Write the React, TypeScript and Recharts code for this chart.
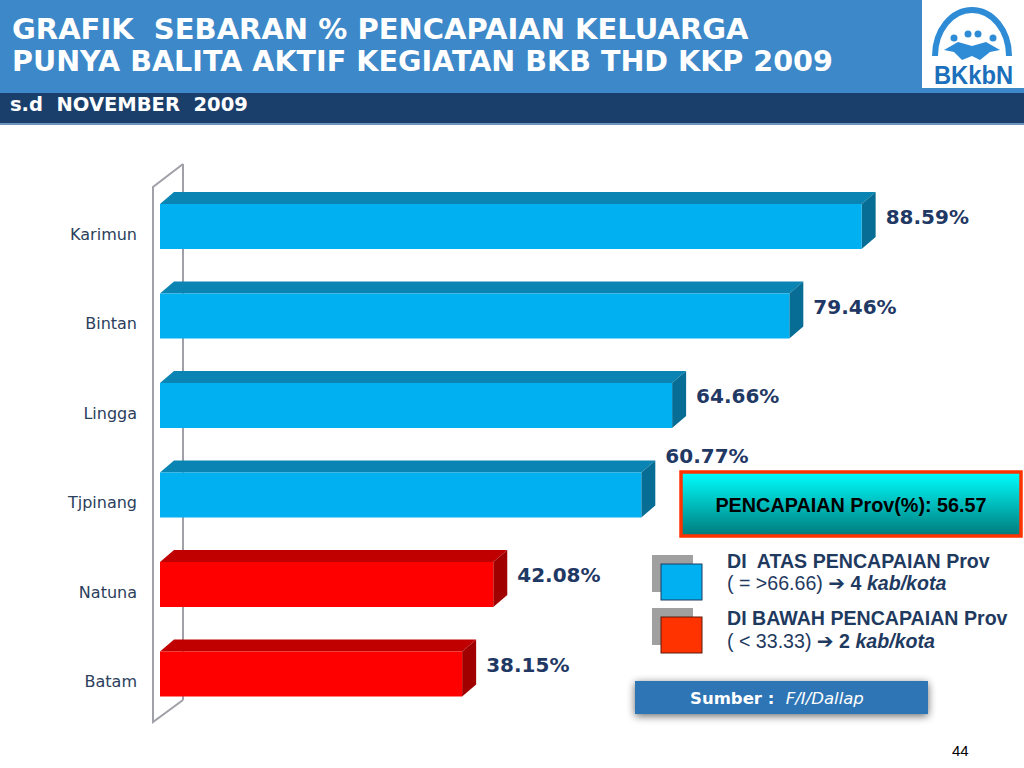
import React from 'react';
import { BarChart, Bar, XAxis, YAxis, LabelList, ReferenceLine } from 'recharts';

const categories = ['Karimun', 'Bintan', 'Lingga', 'Tjpinang', 'Natuna', 'Batam'];
const values = [88.59, 79.46, 64.66, 60.77, 42.08, 38.15];
const groups = ['atas', 'atas', 'atas', 'atas', 'bawah', 'bawah'];
const provAchievement = 56.57;
const aboveThreshold = '66.66';
const belowThreshold = '33.33';
const aboveCount = 4;
const belowCount = 2;
const xDomain = [0, 100];

const data = categories.map((name, i) => ({ name, value: values[i], group: groups[i] }));

const PALETTE: Record<string, { front: string; top: string; side: string }> = {
  atas: { front: '#00B0F0', top: '#0A84B2', side: '#086D94' },
  bawah: { front: '#FF0000', top: '#C00000', side: '#A00000' },
};

const DX = 14;
const DY = 12;

const Bar3D = (props: any) => {
  const { x, y, width, height, payload } = props;
  const c = PALETTE[payload.group];
  const top = `${x},${y} ${x + DX},${y - DY} ${x + width + DX},${y - DY} ${x + width},${y}`;
  const side = `${x + width},${y} ${x + width + DX},${y - DY} ${x + width + DX},${y + height - DY} ${x + width},${y + height}`;
  return (
    <g>
      <polygon points={top} fill={c.top} />
      <polygon points={side} fill={c.side} />
      <rect x={x} y={y} width={width} height={height} fill={c.front} />
    </g>
  );
};

const EmptyShape = () => <g />;

const ValueLabel = (props: any) => {
  const { x, y, width, value, index } = props;
  const special = categories[index] === 'Tjpinang';
  const tx = x + width + 24;
  const ty = special ? y - 10 : y + 20;
  return (
    <text
      x={tx}
      y={ty}
      fill="#1F3864"
      fontFamily="DejaVu Sans, Verdana, sans-serif"
      fontWeight="bold"
      fontSize={20}
    >
      {`${Number(value).toFixed(2)}%`}
    </text>
  );
};

const CatTick = (props: any) => {
  const { x, y, payload } = props;
  return (
    <text
      x={x}
      y={y + 13}
      textAnchor="end"
      fill="#2B405C"
      fontFamily="DejaVu Sans, Verdana, sans-serif"
      fontSize={16}
    >
      {payload.value}
    </text>
  );
};

const Wall = (props: any) => {
  const { x1, y1, y2 } = props;
  if (x1 == null) return <g />;
  const t = Math.min(y1, y2);
  const b = Math.max(y1, y2);
  const fx = x1 - 7;
  const bx = x1 + 23;
  const pts = `${bx},${t - 18} ${fx},${t + 5} ${fx},${b + 3} ${bx},${b - 19}`;
  return (
    <g>
      <polyline points={pts} fill="none" stroke="#A0A0A8" strokeWidth={2} />
      <line x1={bx} y1={t - 18} x2={bx} y2={b - 19} stroke="#A0A0A8" strokeWidth={2} />
    </g>
  );
};

const Header = () => (
  <svg width={1024} height={768} style={{ position: 'absolute', left: 0, top: 0 }}>
    <defs>
      <linearGradient id="provGrad" x1="0" y1="0" x2="0" y2="1">
        <stop offset="0" stopColor="#00FFFF" />
        <stop offset="1" stopColor="#007A7A" />
      </linearGradient>
      <filter id="shadow" x="-20%" y="-50%" width="140%" height="200%">
        <feGaussianBlur in="SourceAlpha" stdDeviation="4" />
        <feOffset dx="0" dy="2" />
        <feComponentTransfer>
          <feFuncA type="linear" slope="0.6" />
        </feComponentTransfer>
        <feMerge>
          <feMergeNode />
          <feMergeNode in="SourceGraphic" />
        </feMerge>
      </filter>
    </defs>
    <rect x={0} y={0} width={1024} height={768} fill="#FFFFFF" />
    <rect x={0} y={0} width={1024} height={93} fill="#3C88C8" />
    <rect x={0} y={93} width={1024} height={31} fill="#1B3F6B" />
    <rect x={0} y={123} width={1024} height={2} fill="#6E93BD" />
    <text x={12} y={39} fill="#FFFFFF" fontFamily="DejaVu Sans, Verdana, sans-serif" fontWeight="bold" fontSize={29} style={{ whiteSpace: 'pre' }}>
      {'GRAFIK  SEBARAN % PENCAPAIAN KELUARGA'}
    </text>
    <text x={12} y={71} fill="#FFFFFF" fontFamily="DejaVu Sans, Verdana, sans-serif" fontWeight="bold" fontSize={28.6} style={{ whiteSpace: 'pre' }}>
      {'PUNYA BALITA AKTIF KEGIATAN BKB THD KKP 2009'}
    </text>
    <text x={10} y={111} fill="#FFFFFF" fontFamily="DejaVu Sans, Verdana, sans-serif" fontWeight="bold" fontSize={19.5} style={{ whiteSpace: 'pre' }}>
      {'s.d  NOVEMBER  2009'}
    </text>
    {/* logo */}
    <rect x={922} y={0} width={102} height={88} fill="#FFFFFF" />
    <path d="M 935 56 A 37 46 0 0 1 1009 56" fill="none" stroke="#2E8BD6" strokeWidth={6} />
    <circle cx={954} cy={38} r={3.5} fill="#2E8BD6" />
    <circle cx={968} cy={34} r={3.5} fill="#2E8BD6" />
    <circle cx={978} cy={34} r={3.5} fill="#2E8BD6" />
    <circle cx={993} cy={38} r={3.5} fill="#2E8BD6" />
    <path d="M 944 50 L 958 42 L 972 46 L 986 42 L 1000 50 L 990 52 L 980 60 L 972 56 L 962 60 L 954 52 Z" fill="#2E8BD6" />
    <text x={934} y={84} fill="#1C6FBA" fontFamily="Liberation Sans, Arial, sans-serif" fontWeight="bold" fontSize={25} textLength={79} lengthAdjust="spacingAndGlyphs">
      BKkbN
    </text>
    {/* provincial box */}
    <rect x={681} y={472} width={340} height={64} fill="url(#provGrad)" stroke="#FF3300" strokeWidth={3.5} />
    <text x={851} y={512} textAnchor="middle" fill="#000000" fontFamily="Liberation Sans, Arial, sans-serif" fontWeight="bold" fontSize={19.8}>
      {`PENCAPAIAN Prov(%): ${provAchievement.toFixed(2)}`}
    </text>
    {/* legend */}
    <rect x={652} y={555} width={41} height={37} fill="#A0A0A0" />
    <rect x={661} y={564} width={41} height={36} fill="#00B0F0" stroke="#1F3A5F" strokeWidth={1} />
    <rect x={652} y={608} width={41} height={37} fill="#A0A0A0" />
    <rect x={661} y={617} width={41} height={36} fill="#FF3300" stroke="#5A1A10" strokeWidth={1} />
    <g fill="#1F3A5F" fontFamily="Liberation Sans, Arial, sans-serif" fontSize={19.6}>
      <text x={727} y={568} fontWeight="bold" style={{ whiteSpace: 'pre' }}>{'DI  ATAS PENCAPAIAN Prov'}</text>
      <text x={727} y={590} style={{ whiteSpace: 'pre' }}>
        <tspan>{`( = >${aboveThreshold}) `}</tspan>
        <tspan fontWeight="bold" fontFamily="DejaVu Sans, sans-serif" fontSize={20}>{'➔'}</tspan>
        <tspan fontWeight="bold">{` ${aboveCount} `}</tspan>
        <tspan fontWeight="bold" fontStyle="italic">kab/kota</tspan>
      </text>
      <text x={727} y={625} fontWeight="bold">DI BAWAH PENCAPAIAN Prov</text>
      <text x={727} y={648} style={{ whiteSpace: 'pre' }}>
        <tspan>{`( < ${belowThreshold}) `}</tspan>
        <tspan fontWeight="bold" fontFamily="DejaVu Sans, sans-serif" fontSize={20}>{'➔'}</tspan>
        <tspan fontWeight="bold">{` ${belowCount} `}</tspan>
        <tspan fontWeight="bold" fontStyle="italic">kab/kota</tspan>
      </text>
    </g>
    {/* source */}
    <rect x={635} y={681} width={293} height={33} fill="#2F74B5" filter="url(#shadow)" />
    <text x={690} y={704} fill="#FFFFFF" fontFamily="DejaVu Sans, Verdana, sans-serif" fontSize={16.5} style={{ whiteSpace: 'pre' }}>
      <tspan fontWeight="bold">{'Sumber :  '}</tspan>
      <tspan fontStyle="italic">F/I/Dallap</tspan>
    </text>
    <text x={952} y={756} fill="#000000" fontFamily="Liberation Sans, Arial, sans-serif" fontSize={15}>44</text>
  </svg>
);

const chartProps = {
  width: 1024,
  height: 768,
  data,
  layout: 'vertical' as const,
  margin: { top: 182, right: 72, bottom: 49, left: 10 },
};

export default function App() {
  return (
    <div style={{ position: 'absolute', left: 0, top: 0, width: 1024, height: 768, background: '#FFFFFF', overflow: 'hidden' }}>
      <Header />
      {/* back layer: the chart's wall, drawn behind the bars */}
      <div style={{ position: 'absolute', left: 0, top: 0 }}>
        <BarChart {...chartProps}>
          <XAxis type="number" domain={xDomain} hide />
          <YAxis type="category" dataKey="name" width={150} axisLine={false} tickLine={false} tick={false} />
          <Bar dataKey="value" barSize={45} shape={EmptyShape} isAnimationActive={false} />
          <ReferenceLine x={0} shape={(p: any) => <Wall {...p} />} ifOverflow="visible" />
        </BarChart>
      </div>
      <div style={{ position: 'absolute', left: 0, top: 0 }}>
        <BarChart {...chartProps}>
          <XAxis type="number" domain={xDomain} hide />
          <YAxis
            type="category"
            dataKey="name"
            width={150}
            axisLine={false}
            tickLine={false}
            tickSize={0}
            tickMargin={23}
            tick={<CatTick />}
            interval={0}
          />
          <Bar dataKey="value" barSize={45} shape={(p: any) => <Bar3D {...p} />} isAnimationActive={false}>
            <LabelList dataKey="value" content={(p: any) => <ValueLabel {...p} />} />
          </Bar>
        </BarChart>
      </div>
    </div>
  );
}
